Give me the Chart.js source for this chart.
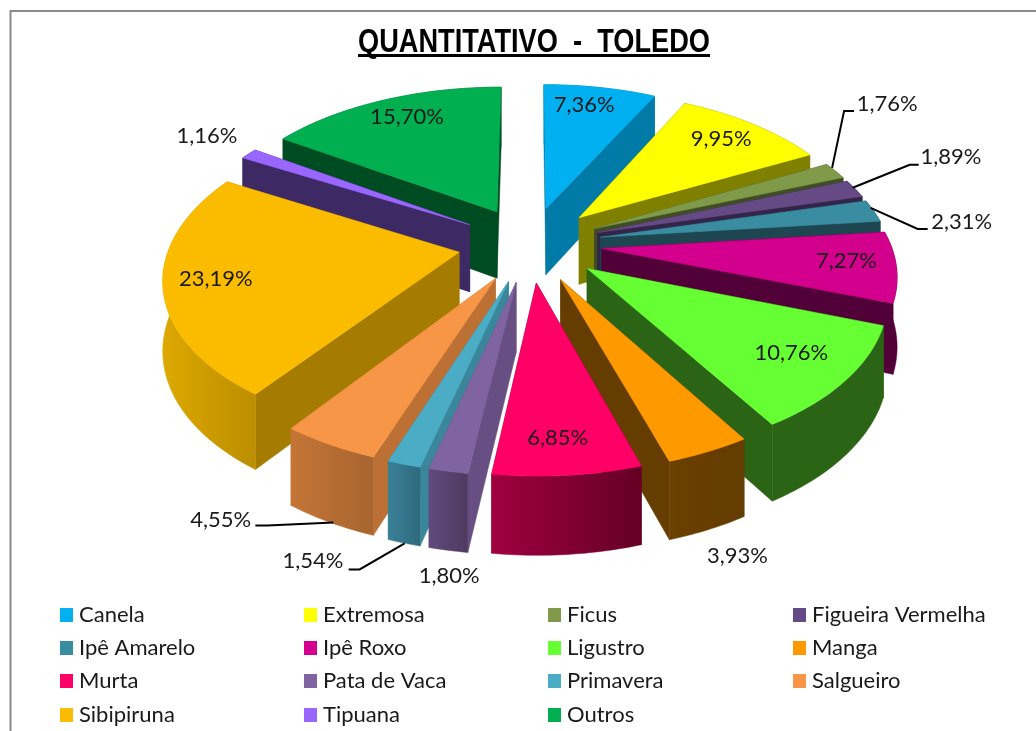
<!DOCTYPE html>
<html>
<head>
<meta charset="utf-8">
<style>html,body{margin:0;padding:0;background:#fff}#w{width:1036px;height:731px;position:relative}</style>
<script src="https://cdn.jsdelivr.net/npm/chart.js@4/dist/chart.umd.min.js"></script>
</head>
<body>
<div id="w"><canvas id="c" width="1036" height="731"></canvas></div>
<script>
const categories = ['Canela','Extremosa','Ficus','Figueira Vermelha','Ipê Amarelo','Ipê Roxo','Ligustro','Manga','Murta','Pata de Vaca','Primavera','Salgueiro','Sibipiruna','Tipuana','Outros'];
const percentages = [7.36,9.95,1.76,1.89,2.31,7.27,10.76,3.93,6.85,1.80,1.54,4.55,23.19,1.16,15.70];
const topColors = ['#00B0F0','#FFFF00','#7F9A48','#664A85','#3A8CA1','#D2008C','#66FF33','#FF9900','#FF0066','#8064A2','#4BACC6','#F79646','#FBBC00','#9966FF','#00B050'];
const sideColors = ['#007BA8','#808000','#404D24','#33254A','#1D4650','#520038','#2A6414','#663D00','#7A0030','#674F83','#3A879B','#BD7033','#A67C00','#3D2963','#004C22'];
const rimLeft = ['#007BA8','#808000','#404D24','#33254A','#1D4650','#520038','#2A6414','#6B4000','#A00040','#5F4A7C','#3A8096','#C47536','#DDA800','#3D2963','#004C22'];
const rimRight = ['#007BA8','#808000','#404D24','#33254A','#1D4650','#520038','#2A6414','#633C00','#640024','#4E3A60','#2F6A7E','#A86530','#BC8E00','#3D2963','#004C22'];
// label placement relative to the projected rim point of each slice's middle
const labelShift = [[-16,17],[-32,14.5],[52,-67],[96,-32],[88,11],[-50,-6],[-55,-27],[29,104],[-10,-37],[1,105],[-91,97],[-109,75],[53,-8],[-42,-18],[24,17]];
const leaders = {2:[[-3,-3],[9,-60],[19,-60]],3:[[-2.3,-1],[54.7,-24],[63.7,-24]],4:[[-3,-3],[44,18],[54,18]],10:[[0.6,79],[-44.4,105],[-55.4,105]],11:[[3.6,78],[-62.4,81],[-74.4,81]]};
const titleText = 'QUANTITATIVO  -  TOLEDO';
const legendColumns = [60,304,548,793];
const legendRows = [615,648,681,715];

const PERSP = 0.00051, TILT = 0.525, WALL = 68, CENTER_SHIFT = -3;
const LABEL_FONT = '22px Lato, Carlito, "Open Sans", sans-serif';
const TITLE_FONT = 'bold 33px "Liberation Sans", Arial, sans-serif';

function project(a, theta, r, z){
  const m = (a.startAngle + a.endAngle)/2, d = a.options.offset;
  const X = d*Math.cos(m) + r*Math.cos(theta);
  const Y = d*Math.sin(m) + r*Math.sin(theta);
  const w = 1 - PERSP*Y;
  return [a.x + CENTER_SHIFT + X/w, a.y + TILT*Y/w + z/Math.pow(w,0.75)];
}
function poly(ctx, pts, fill){
  ctx.beginPath();
  pts.forEach((p,i)=> i ? ctx.lineTo(p[0],p[1]) : ctx.moveTo(p[0],p[1]));
  ctx.closePath();
  ctx.fillStyle = fill; ctx.strokeStyle = fill; ctx.lineWidth = 0.5;
  ctx.fill(); ctx.stroke();
}
function drawSlice(ctx, a, i){
  const s = a.startAngle, e = a.endAngle, R = a.outerRadius;
  const n = Math.max(2, Math.ceil((e-s)/0.017));
  const top = [], low = [];
  for(let k=0;k<=n;k++){
    const t = s + (e-s)*k/n;
    top.push(project(a,t,R,0)); low.push(project(a,t,R,WALL));
  }
  const c0 = project(a,s,0,0), c1 = project(a,s,0,WALL);
  poly(ctx,[c0,top[0],low[0],c1],sideColors[i]);
  poly(ctx,[c0,top[n],low[n],c1],sideColors[i]);
  const xs = top.concat(low).map(p=>p[0]);
  const g = ctx.createLinearGradient(Math.min(...xs),0,Math.max(...xs),0);
  g.addColorStop(0,rimLeft[i]); g.addColorStop(1,rimRight[i]);
  poly(ctx,top.concat(low.slice().reverse()),g);
  poly(ctx,[c0].concat(top),a.options.backgroundColor);
}
const pie3d = {
  id:'pie3d',
  beforeDraw(chart){
    const ctx = chart.ctx;
    ctx.save();
    ctx.fillStyle='#fff'; ctx.fillRect(0,0,chart.width,chart.height);
    ctx.strokeStyle='#8a8a8a'; ctx.lineWidth=2;
    ctx.beginPath(); ctx.moveTo(1040,11); ctx.lineTo(10.5,11); ctx.lineTo(10.5,735); ctx.stroke();
    ctx.restore();
  },
  beforeDatasetDraw(chart,args){
    const ctx = chart.ctx, arcs = args.meta.data;
    const order = arcs.map((a,i)=>i).sort((p,q)=>{
      const mp=(arcs[p].startAngle+arcs[p].endAngle)/2, mq=(arcs[q].startAngle+arcs[q].endAngle)/2;
      return Math.sin(mp)-Math.sin(mq);
    });
    ctx.save();
    order.forEach(i=>drawSlice(ctx,arcs[i],i));
    ctx.restore();
    return false;
  },
  afterDatasetsDraw(chart){
    const ctx = chart.ctx, arcs = chart.getDatasetMeta(0).data;
    ctx.save();
    ctx.font = LABEL_FONT; ctx.textAlign='center'; ctx.textBaseline='middle';
    arcs.forEach((a,i)=>{
      const m=(a.startAngle+a.endAngle)/2, p=project(a,m,a.outerRadius,0);
      if(leaders[i]){
        ctx.strokeStyle='#000'; ctx.lineWidth=2;
        ctx.beginPath();
        leaders[i].forEach((o,k)=> k? ctx.lineTo(p[0]+o[0],p[1]+o[1]) : ctx.moveTo(p[0]+o[0],p[1]+o[1]));
        ctx.stroke();
      }
      const txt = percentages[i].toFixed(2).replace('.',',')+'%';
      ctx.fillStyle='#1a1a1a';
      ctx.fillText(txt,p[0]+labelShift[i][0],p[1]+labelShift[i][1]);
    });
    // legend
    ctx.textAlign='left';
    categories.forEach((name,i)=>{
      const x=legendColumns[i%4], y=legendRows[Math.floor(i/4)];
      ctx.fillStyle=topColors[i]; ctx.fillRect(x,y-7,13,14);
      ctx.fillStyle='#1a1a1a'; ctx.fillText(name,x+19,y);
    });
    // title, condensed to the width of the original, with its underline
    ctx.font = TITLE_FONT;
    const natural = ctx.measureText(titleText).width, squeeze = 352/natural;
    ctx.save();
    ctx.translate(534,52); ctx.scale(squeeze,1);
    ctx.textAlign='center'; ctx.textBaseline='alphabetic'; ctx.fillStyle='#000';
    ctx.fillText(titleText,0,0);
    ctx.restore();
    ctx.fillStyle='#000'; ctx.fillRect(358,54,352,3);
    ctx.restore();
  }
};
new Chart(document.getElementById('c'),{
  type:'pie',
  data:{labels:categories,datasets:[{data:percentages,backgroundColor:topColors,offset:72,borderWidth:0}]},
  options:{
    responsive:false,animation:false,events:[],
    radius:289,
    layout:{padding:{left:30,top:56,right:0,bottom:299}},
    plugins:{legend:{display:false},tooltip:{enabled:false},title:{display:false,text:titleText}}
  },
  plugins:[pie3d]
});
</script>
</body>
</html>
